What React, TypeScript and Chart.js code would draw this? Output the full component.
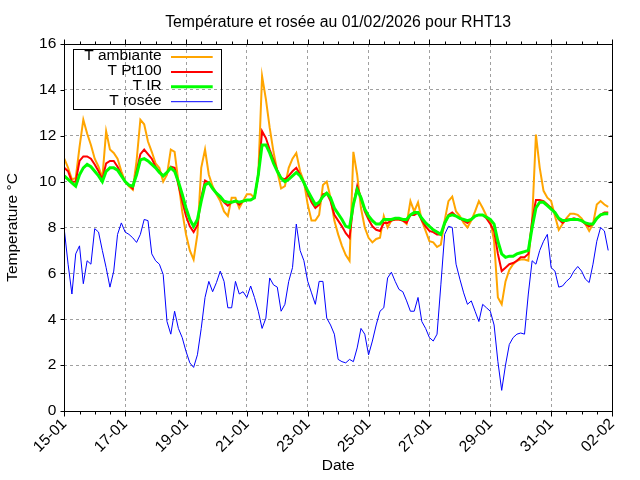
import React, { useEffect, useRef } from "react";
import { Chart, registerables } from "chart.js";

Chart.register(...registerables);

const chartTitle = "Température et rosée au 01/02/2026 pour RHT13";
const xAxisTitle = "Date";
const yAxisTitle = "Temperature °C";
const xTickLabels = ["15-01", "17-01", "19-01", "21-01", "23-01", "25-01", "27-01", "29-01", "31-01", "02-02"];
const sampleStepDays = 0.125; // one sample every 3 hours, starting 15-01 00:00
const seriesNames = ["T ambiante", "T Pt100", "T IR", "T rosée"];
const seriesColors = ["#ffa500", "#ff0000", "#00ff00", "#0000ff"];

const tAmbiante = [
  11.0, 10.6, 10.1, 10.15, 11.5, 12.7, 12.1, 11.6,
  11.0, 10.65, 10.15, 12.2, 11.4, 11.25, 11.0, 10.45,
  10.0, 9.8, 9.65, 10.9, 12.7, 12.5, 11.75, 11.3,
  10.8, 10.6, 10.0, 10.3, 11.4, 11.3, 10.0, 8.7,
  7.7, 7.0, 6.6, 7.7, 10.6, 11.4, 10.3, 9.8,
  9.45, 9.15, 8.7, 8.5, 9.3, 9.3, 8.85, 9.15,
  9.45, 9.45, 9.3, 10.3, 14.6, 13.6, 12.35, 11.3,
  10.45, 9.7, 9.8, 10.6, 11.0, 11.25, 10.45, 10.0,
  9.0, 8.3, 8.3, 8.55, 9.85, 10.0, 9.3, 8.3,
  7.7, 7.2, 6.8, 6.55, 11.3, 10.3, 8.85, 8.0,
  7.55, 7.35, 7.5, 7.55, 8.5, 8.0, 8.3, 8.35,
  8.35, 8.3, 8.15, 9.15, 8.7, 9.1, 8.3, 7.85,
  7.4, 7.35, 7.15, 7.25, 8.3, 9.15, 9.35, 8.7,
  8.5, 8.2, 8.0, 8.3, 8.7, 9.15, 8.85, 8.5,
  8.3, 7.4, 4.95, 4.65, 5.65, 6.15, 6.4, 6.55,
  6.6, 6.6, 6.55, 8.3, 12.05, 10.6, 9.6, 9.3,
  9.15, 8.5, 7.9, 8.15, 8.4, 8.6, 8.6, 8.55,
  8.4, 8.15, 7.85, 8.15, 9.0, 9.15, 9.0, 8.9,
];

const tPt100 = [
  10.6, 10.45, 10.0, 10.0, 10.9, 11.1, 11.1, 11.0,
  10.75, 10.45, 10.1, 10.8, 10.9, 10.9, 10.65, 10.3,
  10.0, 9.85, 9.7, 10.45, 11.2, 11.4, 11.2, 11.0,
  10.65, 10.45, 10.25, 10.4, 10.65, 10.6, 9.85, 9.15,
  8.5, 8.05, 7.8, 8.1, 9.3, 10.05, 9.95, 9.7,
  9.5, 9.3, 9.1, 8.95, 9.1, 9.15, 9.0, 9.15,
  9.2, 9.2, 9.3, 10.3, 12.2, 11.9, 11.4, 10.95,
  10.5, 10.15, 10.1, 10.25, 10.45, 10.6, 10.3, 9.95,
  9.5, 9.1, 8.85, 9.0, 9.45, 9.5, 9.15, 8.55,
  8.3, 8.05, 7.75, 7.55, 9.0, 9.8, 9.3, 8.7,
  8.35, 8.05, 7.9, 7.85, 8.2, 8.2, 8.3, 8.35,
  8.35, 8.3, 8.2, 8.55, 8.55, 8.65, 8.3, 8.05,
  7.85, 7.8, 7.7, 7.7, 8.15, 8.55, 8.65, 8.5,
  8.4, 8.3, 8.2, 8.35, 8.5, 8.55, 8.55, 8.4,
  8.15, 7.85, 6.85, 6.1, 6.25, 6.4, 6.45, 6.55,
  6.7, 6.7, 6.85, 8.3, 9.2, 9.2, 9.15, 9.0,
  8.85, 8.65, 8.35, 8.2, 8.35, 8.35, 8.4, 8.35,
  8.3, 8.15, 8.05, 8.15, 8.4, 8.55, 8.65, 8.65,
];

const tIR = [
  10.25, 10.1, 9.95, 9.8, 10.3, 10.6, 10.75, 10.65,
  10.45, 10.25, 10.0, 10.45, 10.6, 10.6, 10.5, 10.25,
  10.0, 9.85, 9.8, 10.3, 10.95, 11.0, 10.9, 10.75,
  10.6, 10.4, 10.25, 10.4, 10.6, 10.45, 10.0, 9.45,
  8.85, 8.35, 8.05, 8.35, 9.15, 9.85, 9.95, 9.7,
  9.5, 9.35, 9.15, 9.1, 9.1, 9.15, 9.1, 9.15,
  9.2, 9.2, 9.3, 10.3, 11.6, 11.6, 11.25, 10.8,
  10.45, 10.15, 10.0, 10.1, 10.25, 10.4, 10.25, 9.95,
  9.6, 9.3, 9.0, 9.1, 9.35, 9.5, 9.3, 8.85,
  8.6, 8.35, 8.05, 8.0, 9.0, 9.65, 9.3, 8.8,
  8.5, 8.3, 8.15, 8.15, 8.35, 8.35, 8.35, 8.4,
  8.4, 8.35, 8.35, 8.55, 8.65, 8.65, 8.4, 8.2,
  8.05, 7.9, 7.8, 7.7, 8.2, 8.5, 8.55, 8.5,
  8.4, 8.35, 8.3, 8.35, 8.5, 8.55, 8.55, 8.45,
  8.35, 8.15, 7.4, 6.85, 6.7, 6.75, 6.75, 6.85,
  6.9, 6.95, 7.0, 8.0, 8.85, 9.1, 9.1, 8.95,
  8.8, 8.65, 8.4, 8.3, 8.3, 8.35, 8.35, 8.35,
  8.3, 8.2, 8.15, 8.15, 8.4, 8.55, 8.6, 8.6,
];

const tRosee = [
  7.9, 6.4, 5.1, 6.85, 7.2, 5.55, 6.55, 6.4,
  7.95, 7.8, 7.0, 6.25, 5.4, 6.1, 7.7, 8.2,
  7.8, 7.7, 7.55, 7.35, 7.7, 8.35, 8.3, 6.85,
  6.55, 6.4, 5.95, 3.9, 3.35, 4.35, 3.6, 3.2,
  2.6, 2.1, 1.9, 2.45, 3.6, 4.95, 5.65, 5.2,
  5.6, 6.1, 5.65, 4.5, 4.5, 5.65, 5.1, 5.2,
  4.95, 5.45, 4.95, 4.35, 3.6, 4.05, 5.8, 5.5,
  5.4, 4.35, 4.65, 5.65, 6.25, 8.15, 7.0, 6.55,
  5.65, 5.15, 4.65, 5.65, 5.65, 4.05, 3.75, 3.35,
  2.25, 2.15, 2.1, 2.25, 2.15, 2.75, 3.6, 3.35,
  2.45, 3.05, 3.75, 4.35, 4.5, 5.8, 6.05, 5.65,
  5.3, 5.2, 4.8, 4.35, 4.35, 4.95, 3.9, 3.6,
  3.2, 3.05, 3.35, 5.5, 7.7, 8.05, 8.0, 6.4,
  5.75, 5.15, 4.65, 4.8, 4.35, 3.9, 4.65, 4.5,
  4.35, 3.75, 2.15, 0.9, 2.0, 2.9, 3.2, 3.35,
  3.4, 3.35, 5.1, 6.55, 6.4, 7.0, 7.4, 7.7,
  6.25, 6.1, 5.4, 5.45, 5.65, 5.8, 6.1, 6.3,
  6.1, 5.75, 5.6, 6.4, 7.4, 8.0, 7.85, 7.0,
];

const FONT = "'Liberation Sans', Arial, Helvetica, sans-serif";
const FONT_SIZE = 15.5;

const gnuplotDecor = {
  id: "gnuplotDecor",
  afterDatasetsDraw(chart: any) {
    const { ctx, chartArea: a, scales } = chart;
    const xs = scales.x;
    const ys = scales.y;
    const L = Math.round(a.left) + 0.5;
    const R = Math.round(a.right) + 0.5;
    const T = Math.round(a.top) + 0.5;
    const B = Math.round(a.bottom) + 0.5;
    ctx.save();
    ctx.setLineDash([]);
    ctx.strokeStyle = "#000";
    ctx.lineWidth = 1;
    ctx.strokeRect(L, T, R - L, B - T);
    ctx.beginPath();
    const xMin = xs.min as number;
    const xMax = xs.max as number;
    for (let k = 0; xMin + k * 0.5 <= xMax + 1e-9; k++) {
      const v = xMin + k * 0.5;
      const px = Math.round(xs.getPixelForValue(v)) + 0.5;
      const len = k % 4 === 0 ? 5 : 3;
      ctx.moveTo(px, B);
      ctx.lineTo(px, B + len);
      ctx.moveTo(px, T);
      ctx.lineTo(px, T - len);
    }
    for (let v = ys.min as number; v <= (ys.max as number) + 1e-9; v += 2) {
      const py = Math.round(ys.getPixelForValue(v)) + 0.5;
      ctx.moveTo(L, py);
      ctx.lineTo(L - 4, py);
      ctx.moveTo(R, py);
      ctx.lineTo(R - 4, py);
    }
    ctx.stroke();

    // title
    ctx.fillStyle = "#000";
    ctx.font = `15.8px ${FONT}`;
    ctx.textAlign = "center";
    ctx.textBaseline = "alphabetic";
    ctx.fillText(chartTitle, (a.left + a.right) / 2, 27);

    // legend box
    const bx = a.left + 9;
    const by = a.top + 5.3;
    const bw = 148.4;
    const bh = 59.7;
    ctx.strokeRect(Math.round(bx) + 0.5, Math.round(by) + 0.5, Math.round(bw), Math.round(bh));
    const widths = [2, 2, 3, 1];
    ctx.font = `${FONT_SIZE}px ${FONT}`;
    ctx.textAlign = "right";
    ctx.textBaseline = "middle";
    for (let i = 0; i < seriesNames.length; i++) {
      const ry = a.top + 13 + i * 14.9;
      ctx.fillStyle = "#000";
      ctx.fillText(seriesNames[i], a.left + 97.4, ry - 1);
      ctx.beginPath();
      ctx.strokeStyle = seriesColors[i];
      ctx.lineWidth = widths[i];
      ctx.moveTo(a.left + 106.7, ry);
      ctx.lineTo(a.left + 148.4, ry);
      ctx.stroke();
    }
    ctx.restore();
  },
};

export default function App() {
  const canvasRef = useRef<HTMLCanvasElement | null>(null);

  useEffect(() => {
    const canvas = canvasRef.current;
    if (!canvas) return;
    Chart.defaults.font.family = FONT;
    Chart.defaults.color = "#000";

    const allSeries = [tAmbiante, tPt100, tIR, tRosee];
    const lineWidths = [2, 2, 3, 1];
    const drawOrder = [4, 3, 2, 1];
    const datasets = allSeries.map((vals, k) => ({
      label: seriesNames[k],
      data: vals.map((v, i) => ({ x: i * sampleStepDays, y: v })),
      borderColor: seriesColors[k],
      backgroundColor: seriesColors[k],
      borderWidth: lineWidths[k],
      pointRadius: 0,
      tension: 0,
      fill: false,
      order: drawOrder[k],
    }));

    const chart = new Chart(canvas, {
      type: "line",
      data: { datasets },
      plugins: [gnuplotDecor],
      options: {
        responsive: false,
        animation: false,
        devicePixelRatio: 1,
        layout: { padding: { left: 0, right: 28, top: 44, bottom: 0 } },
        plugins: {
          legend: { display: false },
          title: { display: false },
          tooltip: { enabled: false },
        },
        scales: {
          x: {
            type: "linear",
            min: 0,
            max: 18,
            afterFit: (s: any) => {
              s.height = 69;
            },
            ticks: {
              stepSize: 2,
              autoSkip: false,
              minRotation: 45,
              maxRotation: 45,
              padding: 4,
              color: "#000",
              font: { size: FONT_SIZE, family: FONT },
              callback: (v: any) => xTickLabels[Math.round(Number(v) / 2)] ?? "",
            },
            grid: { color: "#a0a0a0", lineWidth: 1, drawTicks: false },
            border: { display: false, dash: [3, 3] },
            title: {
              display: true,
              text: xAxisTitle,
              color: "#000",
              font: { size: FONT_SIZE, family: FONT },
              padding: { top: 0, bottom: 5 },
            },
          },
          y: {
            type: "linear",
            min: 0,
            max: 16,
            afterFit: (s: any) => {
              s.width = 64.3;
            },
            ticks: {
              stepSize: 2,
              padding: 8,
              color: "#000",
              font: { size: FONT_SIZE, family: FONT },
            },
            grid: { color: "#a0a0a0", lineWidth: 1, drawTicks: false },
            border: { display: false, dash: [3, 3] },
            title: {
              display: true,
              text: yAxisTitle,
              color: "#000",
              font: { size: FONT_SIZE, family: FONT },
              padding: { top: 3, bottom: 0 },
            },
          },
        },
      } as any,
    });
    return () => chart.destroy();
  }, []);

  return (
    <div style={{ position: "fixed", left: 0, top: 0, width: 640, height: 480, background: "#fff" }}>
      <canvas ref={canvasRef} width={640} height={480} style={{ display: "block" }} />
    </div>
  );
}
